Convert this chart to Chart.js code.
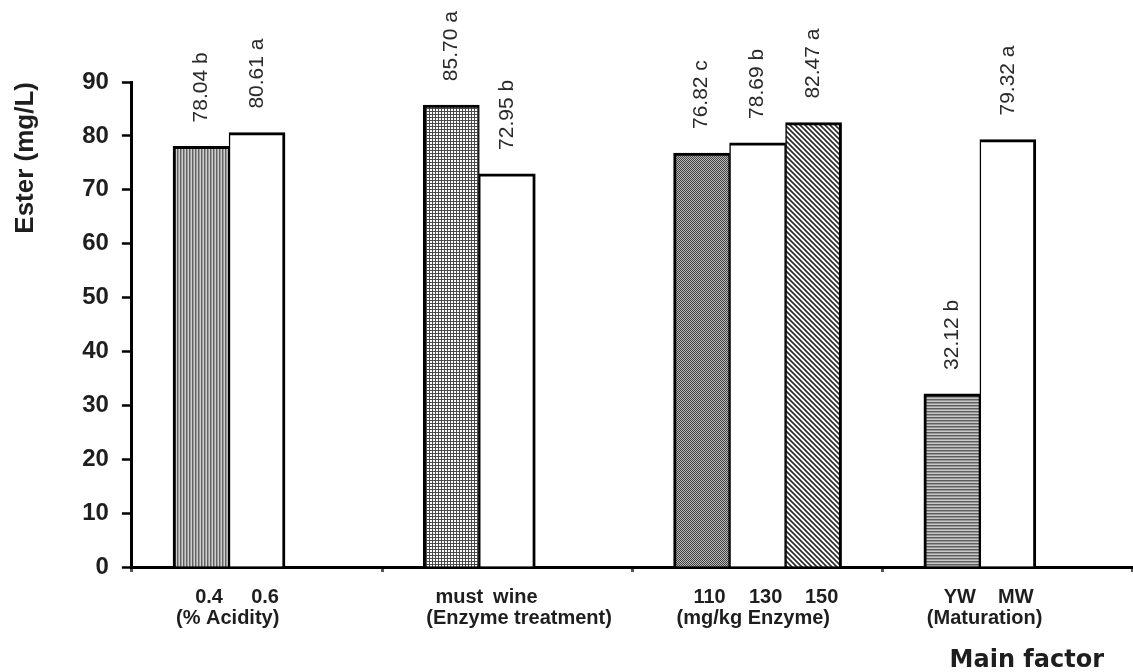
<!doctype html>
<html>

<head>
    <title>Ester (mg/L) by main factor</title>
    <script src="https://cdn.jsdelivr.net/npm/chart.js@4/dist/chart.umd.min.js"></script>
    <style>
    body {
        margin: 0;
        background: #fff;
    }
    </style>
</head>

<body>
    <canvas id="canvas" width="1133" height="672"></canvas>

    <script>
        var groups = ['(% Acidity)', '(Enzyme treatment)', '(mg/kg Enzyme)', '(Maturation)'];
        var levels = [['0.4', '0.6'], ['must', 'wine'], ['110', '130', '150'], ['YW', 'MW']];

        // bars by their place inside each group
        var firstBar = [78.04, 85.70, 76.82, 32.12];
        var secondBar = [80.61, 72.95, 78.69, 79.32];
        var thirdBar = [null, null, 82.47, null];
        var firstLetter = ['b', 'a', 'c', 'b'];
        var secondLetter = ['a', 'b', 'b', 'a'];
        var thirdLetter = [null, null, 'a', null];
        // empty slot so the two-bar groups sit left of the group centre
        var spacer = [0, 0, null, 0];

        var yMin = 0, yMax = 90, yStep = 10;

        function makePattern(w, h, draw) {
            var c = document.createElement('canvas');
            c.width = w;
            c.height = h;
            var g = c.getContext('2d');
            draw(g);
            return g.createPattern(c, 'repeat');
        }

        var vertLines = makePattern(3, 3, function(g) {
            g.fillStyle = '#cfcfcf'; g.fillRect(0, 0, 3, 3);
            g.fillStyle = '#626262'; g.fillRect(0, 0, 1, 3);
            g.fillStyle = '#9c9c9c'; g.fillRect(1, 0, 1, 3);
        });
        var gridLines = makePattern(3, 3, function(g) {
            g.fillStyle = '#fff'; g.fillRect(0, 0, 3, 3);
            g.fillStyle = '#4a4a4a'; g.fillRect(0, 0, 3, 1); g.fillRect(0, 0, 1, 3);
        });
        var dots = makePattern(2, 2, function(g) {
            g.fillStyle = '#bbb'; g.fillRect(0, 0, 2, 2);
            g.fillStyle = '#404040'; g.fillRect(0, 0, 1, 1); g.fillRect(1, 1, 1, 1);
        });
        var diagLines = makePattern(5, 5, function(g) {
            g.fillStyle = '#fff'; g.fillRect(0, 0, 5, 5);
            g.strokeStyle = '#2a2a2a'; g.lineWidth = 1.6;
            g.beginPath();
            g.moveTo(-1, -1); g.lineTo(6, 6);
            g.moveTo(-1, 4); g.lineTo(1, 6);
            g.moveTo(4, -1); g.lineTo(6, 1);
            g.stroke();
        });
        var horizLines = makePattern(3, 3, function(g) {
            g.fillStyle = '#c8c8c8'; g.fillRect(0, 0, 3, 3);
            g.fillStyle = '#5e5e5e'; g.fillRect(0, 0, 3, 1);
            g.fillStyle = '#979797'; g.fillRect(0, 1, 3, 1);
        });

        var barLabels = {
            id: 'barLabels',
            afterDatasetsDraw: function(chart) {
                var ctx = chart.ctx;
                var bottom = chart.chartArea.bottom;
                ctx.save();

                ctx.font = '21px "Liberation Sans", Arial, sans-serif';
                ctx.fillStyle = '#2a2a2a';
                ctx.textAlign = 'left';
                ctx.textBaseline = 'middle';
                [firstLetter, secondLetter, thirdLetter].forEach(function(letters, d) {
                    var values = chart.data.datasets[d].data;
                    chart.getDatasetMeta(d).data.forEach(function(bar, i) {
                        if (values[i] == null) return;
                        ctx.save();
                        ctx.translate(bar.x, bar.y - 24);
                        ctx.rotate(-Math.PI / 2);
                        ctx.fillText(values[i].toFixed(2) + ' ' + letters[i], 0, 0);
                        ctx.restore();
                    });
                });

                ctx.font = 'bold 20px "Liberation Sans", Arial, sans-serif';
                ctx.fillStyle = '#1e1e1e';
                ctx.textBaseline = 'alphabetic';
                groups.forEach(function(name, i) {
                    levels[i].forEach(function(lv, k) {
                        var bar = chart.getDatasetMeta(k).data[i];
                        ctx.textAlign = 'center';
                        ctx.fillText(lv, bar.x + 8, bottom + 36);
                    });
                    var first = chart.getDatasetMeta(0).data[i];
                    ctx.textAlign = 'left';
                    ctx.fillText(name, first.x - first.width / 2 + 3, bottom + 57);
                });

                ctx.font = 'bold 24px "DejaVu Sans", sans-serif';
                ctx.textAlign = 'right';
                ctx.fillText('Main factor', chart.chartArea.right - 29, bottom + 100);
                ctx.restore();
            }
        };

        // neighbouring bars share one line, so inner edges get half a border each
        var outerLeft = { left: 3, top: 3, right: 1.5, bottom: 0 };
        var middle = { left: 1.5, top: 3, right: 1.5, bottom: 0 };
        var outerRight = { left: 1.5, top: 3, right: 3, bottom: 0 };

        var barStyle = {
            barThickness: 56,
            skipNull: true,
            borderColor: '#000'
        };

        window.onload = function() {
            var ctx = document.getElementById('canvas').getContext('2d');
            window.myBar = new Chart(ctx, {
                type: 'bar',
                data: {
                    labels: groups,
                    datasets: [
                        Object.assign({ data: firstBar, borderWidth: outerLeft,
                            backgroundColor: [vertLines, gridLines, dots, horizLines] }, barStyle),
                        Object.assign({ data: secondBar,
                            borderWidth: [outerRight, outerRight, middle, outerRight],
                            backgroundColor: '#fff' }, barStyle),
                        Object.assign({ data: thirdBar, borderWidth: outerRight,
                            backgroundColor: ['#fff', '#fff', diagLines, '#fff'] }, barStyle),
                        { data: spacer, barThickness: 56, skipNull: true,
                            backgroundColor: 'rgba(0,0,0,0)', borderWidth: 0 }
                    ]
                },
                options: {
                    responsive: false,
                    animation: false,
                    devicePixelRatio: 1,
                    layout: {
                        padding: { left: 0, right: 0, top: 82, bottom: 100 }
                    },
                    plugins: {
                        legend: { display: false },
                        tooltip: { enabled: false }
                    },
                    scales: {
                        x: {
                            ticks: { display: false },
                            grid: {
                                drawOnChartArea: false,
                                tickLength: 5,
                                tickWidth: 3,
                                tickColor: '#555'
                            },
                            border: { color: '#000', width: 3 }
                        },
                        y: {
                            min: yMin,
                            max: yMax,
                            ticks: {
                                stepSize: yStep,
                                padding: 13,
                                color: '#1e1e1e',
                                font: { family: '"Liberation Sans", Arial, sans-serif', size: 24, weight: 'bold' }
                            },
                            grid: {
                                drawOnChartArea: false,
                                tickLength: 10,
                                tickWidth: 2.5,
                                tickColor: '#000'
                            },
                            border: { color: '#000', width: 3 },
                            title: {
                                display: true,
                                text: 'Ester (mg/L)',
                                align: 'end',
                                color: '#1e1e1e',
                                padding: { top: 10, bottom: 28 },
                                font: { family: '"Liberation Sans", Arial, sans-serif', size: 26, weight: 'bold' }
                            }
                        }
                    }
                },
                plugins: [barLabels]
            });
        };
    </script>
</body>

</html>
